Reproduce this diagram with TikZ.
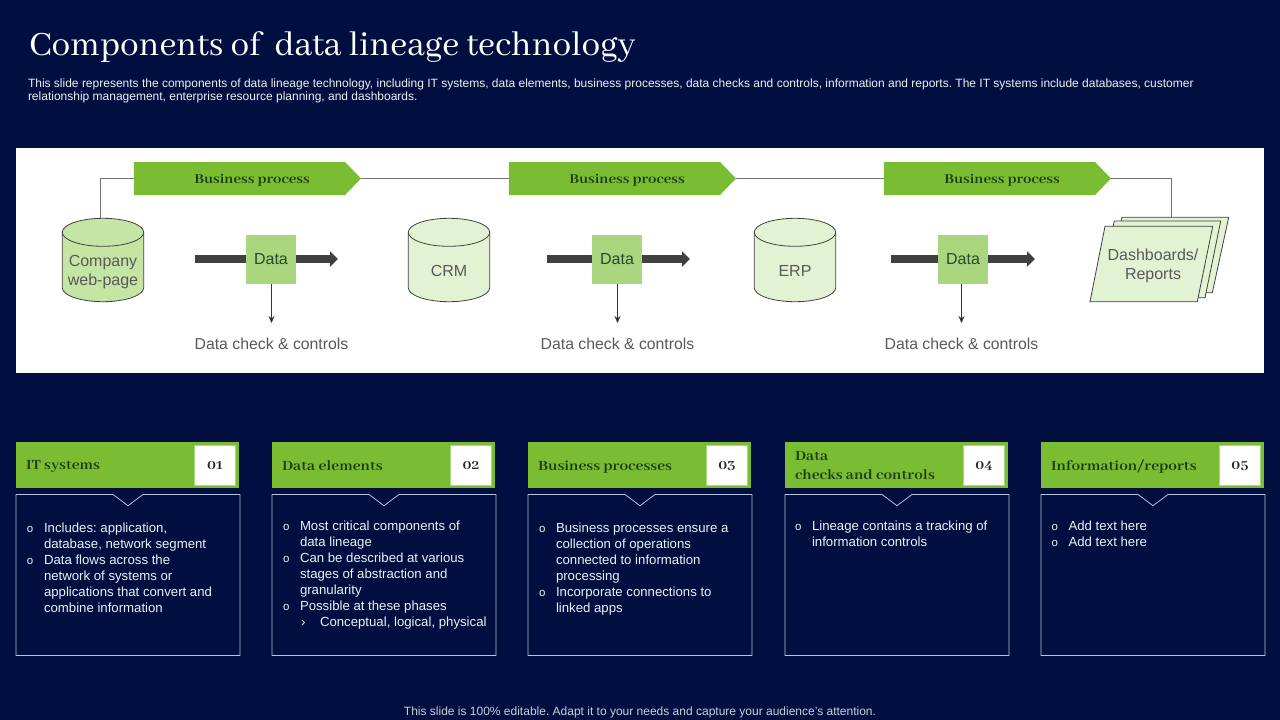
\documentclass[tikz,border=0pt]{standalone}
\usepackage{fontspec}
\usetikzlibrary{shapes.geometric,shapes.symbols,arrows.meta}
\setmainfont{Liberation Sans}
\newfontfamily\serifhead{Abhaya Libre}[Numbers=OldStyle]
\newfontfamily\serifbold{Abhaya Libre}[Numbers=OldStyle,BoldFont={Abhaya Libre Bold},BoldFeatures={FakeStretch=1.1}]
\definecolor{navy}{HTML}{000F3F}
\definecolor{lgreen}{HTML}{7ABD33}
\definecolor{cylA}{HTML}{C5E5A5}
\definecolor{cylB}{HTML}{E3F2D3}
\definecolor{datag}{HTML}{A9D67E}
\definecolor{gtext}{HTML}{595959}
\definecolor{dgreen}{HTML}{1F3A10}
\definecolor{outl}{HTML}{B7C4DE}
\definecolor{bodytxt}{HTML}{EDF0F6}
\tikzset{
  x=1pt,y=-1pt,
  every node/.style={inner sep=0pt,outer sep=0pt},
  cylshape/.style={draw=black!75,line width=.8pt,fill=#1},
  cyltext/.style={font=\fontsize{16}{19}\selectfont,text=gtext,align=center},
  bproc/.style={signal,signal to=east,signal pointer angle=92,fill=lgreen,minimum width=227pt,minimum height=33pt,
     font=\serifbold\bfseries\fontsize{15}{18}\selectfont,text=dgreen},
  datan/.style={fill=datag,minimum width=50pt,minimum height=49pt,font=\fontsize{16}{19}\selectfont,text=gtext!80!green!60!black},
  flowarrow/.style={draw=black!75,line width=8pt,-{Triangle[length=8pt,width=15pt]}},
  downarrow/.style={draw=black!80,line width=.8pt,-{Stealth[length=7pt,width=6pt]}},
  link/.style={draw=black!55,line width=.8pt},
  checklabel/.style={font=\fontsize{15.8}{19}\selectfont,text=gtext},
  sheet/.style={draw=black!75,line width=.8pt,fill=cylB},
  header/.style={fill=lgreen,minimum width=223pt,minimum height=46pt,anchor=north west},
  numbox/.style={fill=white,draw=datag,line width=.8pt,minimum width=41pt,minimum height=40pt,
     font=\serifbold\bfseries\fontsize{15}{18}\selectfont,text=black!85},
  headtitle/.style={anchor=west,align=left,font=\serifbold\bfseries\fontsize{15.5}{19}\selectfont,text=dgreen},
  bodybox/.style={draw=outl,line width=.8pt},
  bullet/.style={anchor=north west,font=\fontsize{13.2}{16}\selectfont,text=bodytxt,align=left},
}
\newcommand{\cylnode}[5]{% name, centre x, fill, text, text y
  \path[cylshape=#3] (#2-40.7,232.3) -- (#2-40.7,287.7) arc[start angle=180,end angle=360,x radius=40.7pt,y radius=14pt]
     -- (#2+40.7,232.3) arc[start angle=0,end angle=180,x radius=40.7pt,y radius=14pt] -- cycle;
  \draw[cylshape=#3,fill=none] (#2-40.7,232.3) arc[start angle=180,end angle=360,x radius=40.7pt,y radius=14pt];
  \node[cyltext] (#1) at (#2,#5) {#4};
}
\newcommand{\panel}[4]{% name, x, title, number
  \node[header] (#1h) at (#2,442) {};
  \node[numbox] (#1n) at (#2+199,465.7) {#4};
  \node[headtitle] (#1t) at (#2+10,466.8) {#3\vphantom{Ayg}};
  \draw[bodybox] (#2,494.5) -- (#2+97,494.5) -- (#2+112,505.7) -- (#2+127,494.5) -- (#2+224,494.5) -- (#2+224,655.5) -- (#2,655.5) -- cycle;
}
\newcommand{\bul}[4]{% name, x, baseline-top y, text
  \node[bullet,font=\fontsize{11.5}{16}\selectfont] (#1o) at (#2,#3) {\strut o};
  \node[bullet] (#1) at (#2+17,#3) {\strut #4};
}
\newcommand{\bptext}{\hspace*{25pt}\raisebox{-4.5pt}[0pt][0pt]{Business process}}
\AtBeginDocument{\frenchspacing}
\begin{document}
\begin{tikzpicture}
\useasboundingbox (0,0) rectangle (1280,720);
\fill[navy] (0,0) rectangle (1280,720);
\node[anchor=west,text=white,font=\serifhead\fontsize{37.3}{40}\selectfont] (title) at (29,47) {Components of \ data lineage technology};
\node[anchor=north west,align=left,text=bodytxt,font=\fontsize{12}{13}\selectfont] (intro) at (28,78)
 {\strut This slide represents the components of data lineage technology, including IT systems, data elements, business processes, data checks and controls, information and reports. The IT systems include databases, customer\\relationship management, enterprise resource planning, and dashboards.};
\fill[white] (16,148) rectangle (1264,373);

% business process chevrons
\node[bproc] (bp1) at (239.5,178.5) {\bptext};
\node[bproc] (bp2) at (614.5,178.5) {\bptext};
\node[bproc] (bp3) at (989.5,178.5) {\bptext};

% stores
\cylnode{web}{103}{cylA}{Company\\web-page}{272.5}
\cylnode{crm}{449}{cylB}{CRM}{271}
\cylnode{erp}{795}{cylB}{ERP}{271}

% report stack
\draw[sheet] (1122,217.3) -- (1228.7,217.3) -- (1212.3,292.7) -- (1105,292.7) -- cycle;
\draw[sheet] (1114.3,221) -- (1220.7,221) -- (1205,297.7) -- (1098,297.7) -- cycle;
\draw[sheet] (1105,226.3) -- (1212.7,226.3) -- (1197.3,301.7) -- (1090,301.7) -- cycle;
\node[align=center,font=\fontsize{16}{19}\selectfont,text=gtext] (dash) at (1153,265.5) {Dashboards/\\Reports};
\coordinate (stacktop) at (1171,217.3);
\coordinate (webtop) at (100.5,218.3);

% process links
\draw[link] (webtop) |- (bp1.west);
\draw[link] (bp1.east) -- (bp2.west);
\draw[link] (bp2.east) -- (bp3.west);
\draw[link] (bp3.east) -| (stacktop);

% data flows
\coordinate (f1a) at (195,259); \coordinate (f1b) at (338,259);
\coordinate (f2a) at (547,259); \coordinate (f2b) at (690,259);
\coordinate (f3a) at (891,259); \coordinate (f3b) at (1035,259);
\draw[flowarrow] (f1a) -- (f1b);
\draw[flowarrow] (f2a) -- (f2b);
\draw[flowarrow] (f3a) -- (f3b);
\node[datan] (d1) at (271,259.5) {\raisebox{-3pt}{Data}};
\node[datan] (d2) at (617,259.5) {\raisebox{-3pt}{Data}};
\node[datan] (d3) at (963,259.5) {\raisebox{-3pt}{Data}};
\node[checklabel] (c1) at (271.5,344) {Data check \& controls};
\node[checklabel] (c2) at (617.5,344) {Data check \& controls};
\node[checklabel] (c3) at (961.5,344) {Data check \& controls};
\coordinate (e1) at (271.5,323); \coordinate (e2) at (617.5,323); \coordinate (e3) at (961.5,323);
\draw[downarrow] (d1.south -| e1) -- (e1);
\draw[downarrow] (d2.south -| e2) -- (e2);
\draw[downarrow] (d3.south -| e3) -- (e3);

% panels
\panel{pa}{16}{IT systems}{01}
\panel{pb}{272}{Data elements}{02}
\panel{pc}{528}{Business processes}{03}
\panel{pd}{785}{Data\\checks and controls}{04}
\panel{pe}{1041}{Information/reports}{05}

\bul{a1}{27}{520.8}{Includes: application,\\database, network segment}
\bul{a2}{27}{552.8}{Data flows across the\\network of systems or\\applications that convert and\\combine information}

\bul{b1}{283}{519.3}{Most critical components of\\data lineage}
\bul{b2}{283}{551.3}{Can be described at various\\stages of abstraction and\\granularity}
\bul{b3}{283}{599.3}{Possible at these phases}
\node[bullet] (b4o) at (301,615.3) {\strut ›};
\node[bullet] (b4) at (320,615.3) {\strut Conceptual, logical, physical};

\bul{c1t}{539}{520.8}{Business processes ensure a\\collection of operations\\connected to information\\processing}
\bul{c2t}{539}{584.8}{Incorporate connections to\\linked apps}

\bul{d1t}{795}{519.3}{Lineage contains a tracking of\\information controls}

\bul{e1}{1051.5}{519.3}{Add text here}
\bul{e2}{1051.5}{535.3}{Add text here}

\node[text=bodytxt!85!navy,font=\fontsize{12}{14}\selectfont] (foot) at (640,712) {This slide is 100\% editable. Adapt it to your needs and capture your audience's attention.};
\end{tikzpicture}
\end{document}
